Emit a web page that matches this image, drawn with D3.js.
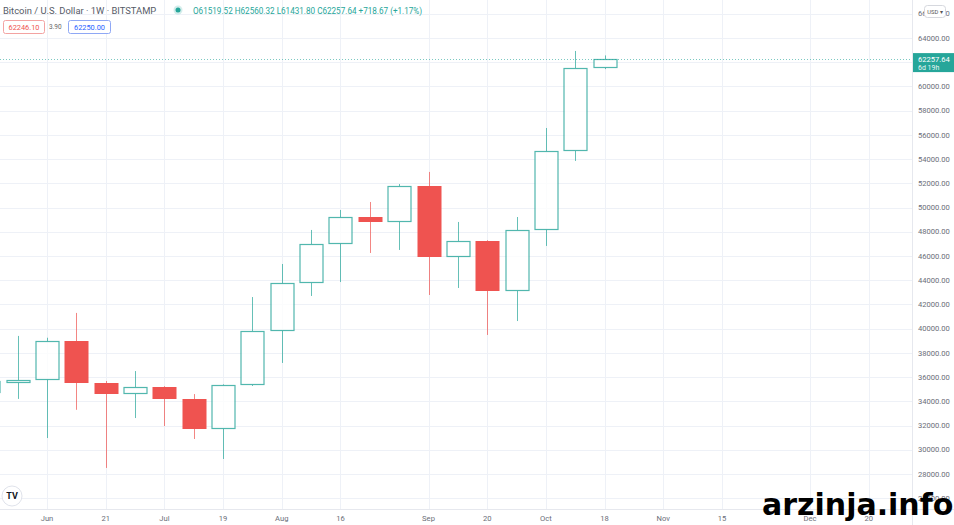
<!DOCTYPE html>
<html>
<head>
<meta charset="utf-8">
<script src="https://cdn.jsdelivr.net/npm/d3@7"></script>
<style>
  body { margin: 0; background: #fff; }
  svg { display: block; font-family: Roboto, "Liberation Sans", sans-serif; }
</style>
</head>
<body>
<script>
// weekly BTC/USD candles (Bitstamp)
var weeks = ["2021-05-24","2021-05-31","2021-06-07","2021-06-14","2021-06-21","2021-06-28",
             "2021-07-05","2021-07-12","2021-07-19","2021-07-26","2021-08-02","2021-08-09",
             "2021-08-16","2021-08-23","2021-08-30","2021-09-06","2021-09-13","2021-09-20",
             "2021-09-27","2021-10-04","2021-10-11","2021-10-18"];
var openP  = [34700, 35620, 35780, 38980, 35520, 34610, 35180, 34200, 31720, 35350, 39800, 43770,
              46990, 49220, 48810, 51780, 45920, 47240, 43110, 48150, 54670, 61519.52];
var highP  = [39900, 39400, 39250, 41300, 35680, 36500, 35250, 34600, 35400, 42610, 45340, 48150,
              49800, 50460, 51940, 52940, 48810, 47300, 49220, 56570, 62930, 62560.32];
var lowP   = [31200, 34200, 30970, 33300, 28500, 32620, 31960, 30890, 29240, 35270, 37170, 42700,
              43850, 46250, 46500, 42780, 43360, 39480, 40630, 46830, 53850, 61431.80];
var closeP = [35650, 35780, 38980, 35520, 34610, 35180, 34200, 31720, 35350, 39800, 43770, 46990,
              49220, 48810, 51780, 45920, 47240, 43110, 48150, 54670, 61520, 62257.64];

var priceTicks = d3.range(26000, 66001, 2000);
var timeTicks  = ["2021-06-07","2021-06-21","2021-07-05","2021-07-19","2021-08-02","2021-08-16",
                  "2021-09-06","2021-09-20","2021-10-04","2021-10-18","2021-11-01","2021-11-15",
                  "2021-12-06","2021-12-20"];
var timeLabels = ["Jun","21","Jul","19","Aug","16","Sep","20","Oct","18","Nov","15","Dec","20"];

var lastPrice = 62257.64;

var W = 954, H = 525;
var plotR = 912, plotB = 509;
var up = "#26a69a", down = "#ef5350";

var parse = d3.timeParse("%Y-%m-%d");

var x = d3.scaleTime()
  .domain([parse("2021-06-07"), parse("2021-10-18")])
  .range([47, 604.6]);
var y = d3.scaleLinear().domain([28000, 64000]).range([474, 38]);

var svg = d3.select("body").append("svg")
  .attr("width", W).attr("height", H);

var plot = svg.append("g");
plot.append("clipPath").attr("id", "clip")
  .append("rect").attr("width", plotR).attr("height", plotB);

// grid
plot.selectAll(".hgrid").data(priceTicks).enter().append("line")
  .attr("x1", 0).attr("x2", plotR)
  .attr("y1", function(d){ return Math.round(y(d)) + 0.5; })
  .attr("y2", function(d){ return Math.round(y(d)) + 0.5; })
  .style("stroke", "#eef1f7");
plot.selectAll(".vgrid").data(timeTicks).enter().append("line")
  .attr("y1", 0).attr("y2", plotB)
  .attr("x1", function(d){ return Math.round(x(parse(d))) + 0.5; })
  .attr("x2", function(d){ return Math.round(x(parse(d))) + 0.5; })
  .style("stroke", "#eef1f7");

// candles
var bw = 23;
var candles = plot.append("g").attr("clip-path", "url(#clip)");
weeks.forEach(function(w, i){
  var cx = Math.round(x(parse(w))) + 0.5;
  var o = openP[i], c = closeP[i], isUp = c >= o;
  var col = isUp ? up : down;
  var top = Math.round(y(Math.max(o, c))), bot = Math.round(y(Math.min(o, c)));
  if (bot - top < 3) bot = top + 3;
  candles.append("line").attr("x1", cx).attr("x2", cx)
    .attr("y1", y(highP[i])).attr("y2", top)
    .style("stroke", col).style("opacity", 0.7);
  candles.append("line").attr("x1", cx).attr("x2", cx)
    .attr("y1", bot).attr("y2", y(lowP[i]))
    .style("stroke", col).style("opacity", 0.7);
  if (isUp) {
    candles.append("rect")
      .attr("x", cx - bw / 2).attr("y", top + 0.5)
      .attr("width", bw).attr("height", bot - top - 1)
      .style("fill", "#fff").style("stroke", col).style("stroke-width", 1.2).style("opacity", 0.8);
  } else {
    candles.append("rect")
      .attr("x", cx - bw / 2 - 0.5).attr("y", top)
      .attr("width", bw + 1).attr("height", bot - top)
      .style("fill", col);
  }
});

// last price dotted line
plot.append("line")
  .attr("x1", 0).attr("x2", plotR)
  .attr("y1", Math.round(y(lastPrice)) + 0.5).attr("y2", Math.round(y(lastPrice)) + 0.5)
  .style("stroke", up).style("stroke-dasharray", "1,2").style("opacity", 0.6);

// borders
svg.append("line").attr("x1", plotR + 0.5).attr("x2", plotR + 0.5).attr("y1", 0).attr("y2", H)
  .style("stroke", "#e6e8ee");
svg.append("line").attr("x1", 0).attr("x2", W).attr("y1", plotB + 0.5).attr("y2", plotB + 0.5)
  .style("stroke", "#e6e8ee");

// price axis
svg.selectAll(".plabel").data(priceTicks).enter().append("text")
  .attr("x", 918).attr("y", function(d){ return y(d); })
  .attr("dy", "0.35em")
  .style("font-size", "7.6px").style("fill", "#6b6e78")
  .text(function(d){ return d3.format(".2f")(d); });

// time axis
svg.selectAll(".tlabel").data(timeTicks).enter().append("text")
  .attr("x", function(d){ return x(parse(d)); }).attr("y", 518)
  .attr("dy", "0.35em").attr("text-anchor", "middle")
  .style("font-size", "7.6px").style("fill", "#6b6e78")
  .text(function(d, i){ return timeLabels[i]; });

// last price tag
var ly = y(lastPrice);
svg.append("rect").attr("x", 913).attr("y", ly - 6).attr("width", 41).attr("height", 19)
  .style("fill", up);
svg.append("text").attr("x", 918).attr("y", ly).attr("dy", "0.35em")
  .style("font-size", "7.6px").style("fill", "#fff").text("62257.64");
svg.append("text").attr("x", 918).attr("y", ly + 8.5).attr("dy", "0.35em")
  .style("font-size", "7px").style("fill", "#e8f6f4").text("6d 19h");

// USD button
svg.append("rect").attr("x", 924.5).attr("y", 5.5).attr("width", 21).attr("height", 12).attr("rx", 3)
  .style("fill", "#fff").style("stroke", "#d6d8de");
svg.append("text").attr("x", 935).attr("y", 11.5).attr("dy", "0.35em").attr("text-anchor", "middle")
  .style("font-size", "5.8px").style("fill", "#555").text("USD \u25BE");

// header
svg.append("text").attr("x", 3).attr("y", 11).attr("dy", "0.35em")
  .style("font-size", "9.4px").style("fill", "#555a66")
  .text("Bitcoin / U.S. Dollar \u00B7 1W \u00B7 BITSTAMP");
svg.append("circle").attr("cx", 178).attr("cy", 10).attr("r", 4.5).style("fill", up).style("opacity", 0.2);
svg.append("circle").attr("cx", 178).attr("cy", 10).attr("r", 2.5).style("fill", up);
svg.append("text").attr("x", 193).attr("y", 11).attr("dy", "0.35em")
  .style("font-size", "8.15px").style("fill", up)
  .text("O61519.52 H62560.32 L61431.80 C62257.64 +718.67 (+1.17%)");

svg.append("rect").attr("x", 3.5).attr("y", 20.5).attr("width", 41).attr("height", 13).attr("rx", 2)
  .style("fill", "#fff").style("stroke", "#f3a3a2");
svg.append("text").attr("x", 24).attr("y", 27).attr("dy", "0.35em").attr("text-anchor", "middle")
  .style("font-size", "7.4px").style("fill", down).text("62246.10");
svg.append("text").attr("x", 49).attr("y", 27).attr("dy", "0.35em")
  .style("font-size", "6.5px").style("fill", "#666").text("3.90");
svg.append("rect").attr("x", 68.5).attr("y", 20.5).attr("width", 42).attr("height", 13).attr("rx", 2)
  .style("fill", "#fff").style("stroke", "#8fa8f5");
svg.append("text").attr("x", 89.5).attr("y", 27).attr("dy", "0.35em").attr("text-anchor", "middle")
  .style("font-size", "7.4px").style("fill", "#2962ff").text("62250.00");

// TV logo
svg.append("circle").attr("cx", 12).attr("cy", 496).attr("r", 10)
  .style("fill", "#fff").style("stroke", "#e0e3eb");
svg.append("text").attr("x", 12).attr("y", 496).attr("dy", "0.35em").attr("text-anchor", "middle")
  .style("font-size", "9px").style("font-weight", "bold").style("fill", "#131722").text("TV");

// watermark
svg.append("text").attr("x", 762).attr("y", 515)
  .style("font-family", "'DejaVu Sans', sans-serif")
  .style("font-size", "30px").style("font-weight", "bold").style("fill", "#000")
  .text("arzinja.info");
</script>
</body>
</html>
